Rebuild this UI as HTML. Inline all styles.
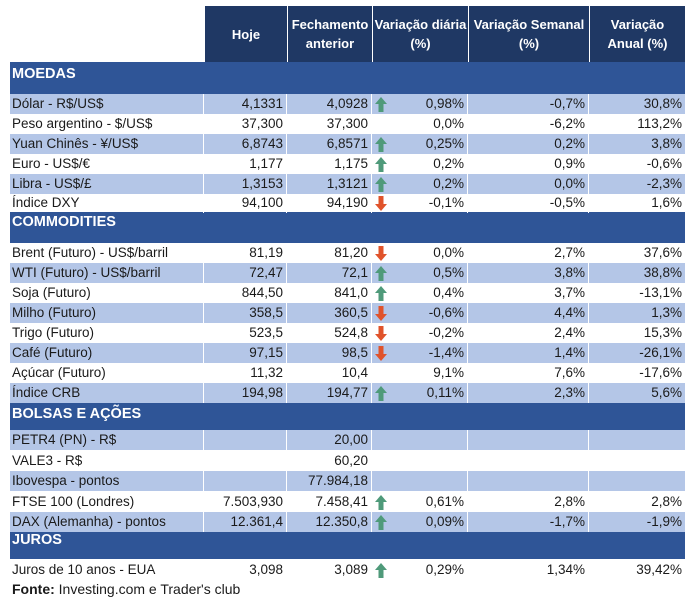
<!DOCTYPE html>
<html><head><meta charset="utf-8"><style>
*{margin:0;padding:0;box-sizing:border-box}
body{width:695px;height:612px;background:#fff;position:relative;overflow:hidden;font-family:"Liberation Sans",Arial,sans-serif;font-size:13.5px;color:#1a1a1a}
.h{position:absolute;top:6px;height:56px;background:#1f3864;color:#fff;font-weight:bold;font-size:13px;display:flex;align-items:center;justify-content:center;text-align:center;line-height:19px;border-left:1px solid #fff;white-space:nowrap}
.sec{position:absolute;left:10px;width:675px;background:#2f5597;color:#fff;font-weight:bold;font-size:14.5px;padding-left:2px}
.r{position:absolute;left:10px;width:675px;height:20px}
.r.b .c{background:#b4c6e7}
.c{position:absolute;top:0;height:100%;line-height:20px;white-space:nowrap;border-right:1px solid #fff;padding:0 3px;text-align:right}
.c.l{left:0;width:194px;text-align:left;padding-left:2px}
.c.h1{left:194px;width:83px}
.c.h2{left:277px;width:85px}
.c.d{left:362px;width:96px}
.c.s{left:458px;width:121px}
.c.a{left:579px;width:96px;border-right:none}
svg.ar{position:absolute;left:3px;top:3px}
.f{position:absolute;left:12px;top:581px;font-size:14px}
</style></head><body>
<div class="h" style="left:204px;width:83px">Hoje</div>
<div class="h" style="left:287px;width:85px">Fechamento<br>anterior</div>
<div class="h" style="left:372px;width:96px">Variação diária<br>(%)</div>
<div class="h" style="left:468px;width:121px">Variação Semanal<br>(%)</div>
<div class="h" style="left:589px;width:96px">Variação<br>Anual (%)</div>

<div class="sec" style="top:62px;height:32px;line-height:24px">MOEDAS</div>
<div class="sec" style="top:212px;height:31px;line-height:20px">COMMODITIES</div>
<div class="sec" style="top:403px;height:27px;line-height:22px">BOLSAS E AÇÕES</div>
<div class="sec" style="top:531px;height:28px;line-height:18px">JUROS</div>

<div id="rows"></div>
<div class="f"><b>Fonte:</b> Investing.com e Trader's club</div>
<script>
var U='<svg class="ar" width="12" height="15" viewBox="0 0 12 15"><path d="M6 0L12 7H8.5V15H3.5V7H0Z" fill="#4f9a7a"/></svg>';
var D='<svg class="ar" width="12" height="15" viewBox="0 0 12 15"><path d="M6 15L12 8H8.5V0H3.5V8H0Z" fill="#e0532b"/></svg>';
var rows=[
[94,1,"Dólar - R$/US$","4,1331","4,0928",U,"0,98%","-0,7%","30,8%"],
[114,0,"Peso argentino - $/US$","37,300","37,300","","0,0%","-6,2%","113,2%"],
[134,1,"Yuan Chinês - ¥/US$","6,8743","6,8571",U,"0,25%","0,2%","3,8%"],
[154,0,"Euro - US$/€","1,177","1,175",U,"0,2%","0,9%","-0,6%"],
[174,1,"Libra - US$/£","1,3153","1,3121",U,"0,2%","0,0%","-2,3%"],
[193,0,"Índice DXY","94,100","94,190",D,"-0,1%","-0,5%","1,6%"],
[243,0,"Brent (Futuro) - US$/barril","81,19","81,20",D,"0,0%","2,7%","37,6%"],
[263,1,"WTI (Futuro) - US$/barril","72,47","72,1",U,"0,5%","3,8%","38,8%"],
[283,0,"Soja (Futuro)","844,50","841,0",U,"0,4%","3,7%","-13,1%"],
[303,1,"Milho (Futuro)","358,5","360,5",D,"-0,6%","4,4%","1,3%"],
[323,0,"Trigo (Futuro)","523,5","524,8",D,"-0,2%","2,4%","15,3%"],
[343,1,"Café (Futuro)","97,15","98,5",D,"-1,4%","1,4%","-26,1%"],
[363,0,"Açúcar (Futuro)","11,32","10,4","","9,1%","7,6%","-17,6%"],
[383,1,"Índice CRB","194,98","194,77",U,"0,11%","2,3%","5,6%"],
[430,1,"PETR4 (PN) - R$","","20,00","","","",""],
[451,0,"VALE3 - R$","","60,20","","","",""],
[471,1,"Ibovespa - pontos","","77.984,18","","","",""],
[492,0,"FTSE 100 (Londres)","7.503,930","7.458,41",U,"0,61%","2,8%","2,8%"],
[512,1,"DAX (Alemanha) - pontos","12.361,4","12.350,8",U,"0,09%","-1,7%","-1,9%"],
[560,0,"Juros de 10 anos - EUA","3,098","3,089",U,"0,29%","1,34%","39,42%"]
];
var h="";
rows.forEach(function(r){
h+='<div class="r'+(r[1]?' b':'')+'" style="top:'+r[0]+'px"><div class="c l">'+r[2]+'</div><div class="c h1">'+r[3]+'</div><div class="c h2">'+r[4]+'</div><div class="c d">'+r[5]+r[6]+'</div><div class="c s">'+r[7]+'</div><div class="c a">'+r[8]+'</div></div>';
});
document.getElementById("rows").innerHTML=h;
</script>
</body></html>
